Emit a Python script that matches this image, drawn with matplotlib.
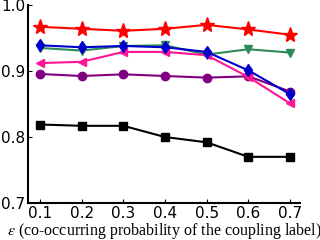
import matplotlib.pyplot as plt
import numpy as np

eps = [0.1, 0.2, 0.3, 0.4, 0.5, 0.6, 0.7]

red_star      = [0.967, 0.964, 0.961, 0.964, 0.970, 0.963, 0.955]
blue_diamond  = [0.939, 0.936, 0.938, 0.936, 0.929, 0.901, 0.865]
green_tri     = [0.935, 0.931, 0.938, 0.939, 0.925, 0.933, 0.928]
pink_tri      = [0.912, 0.914, 0.929, 0.929, 0.924, 0.891, 0.851]
purple_circle = [0.8955, 0.8925, 0.895, 0.8925, 0.890, 0.892, 0.869]
black_square  = [0.819, 0.817, 0.817, 0.800, 0.792, 0.770, 0.770]

plt.rcParams['mathtext.fontset'] = 'stix'

fig = plt.figure(figsize=(3.2, 2.4), dpi=100)
ax = fig.add_axes([0.0875, 0.154, 0.85, 0.825])

ax.plot(eps, black_square, color='black', marker='s', ms=6, lw=1.5)
ax.plot(eps, purple_circle, color='purple', marker='o', ms=6, lw=1.5)
ax.plot(eps, green_tri, color='seagreen', marker='v', ms=6, lw=1.5)
ax.plot(eps, pink_tri, color='deeppink', marker='<', ms=6, lw=1.5)
ax.plot(eps, blue_diamond, color='mediumblue', marker='d', ms=6, lw=1.5)
ax.plot(eps, red_star, color='red', marker='*', ms=11, lw=1.5)

ax.set_xlim(0.071, 0.724)
ax.set_ylim(0.7, 1.0)
ax.set_xticks(eps)
ax.set_yticks([0.7, 0.8, 0.9, 1.0])
ax.spines['top'].set_visible(False)
ax.spines['right'].set_visible(False)
ax.spines['left'].set_linewidth(1.5)
ax.spines['bottom'].set_linewidth(1.5)
ax.tick_params(direction='in', length=3, labelsize=11, pad=2)

ax.set_xlabel(r'$\varepsilon$ (co-occurring probability of the coupling label)',
              family='Liberation Serif', fontsize=11.5, labelpad=0)

plt.savefig('out.png', dpi=100)
